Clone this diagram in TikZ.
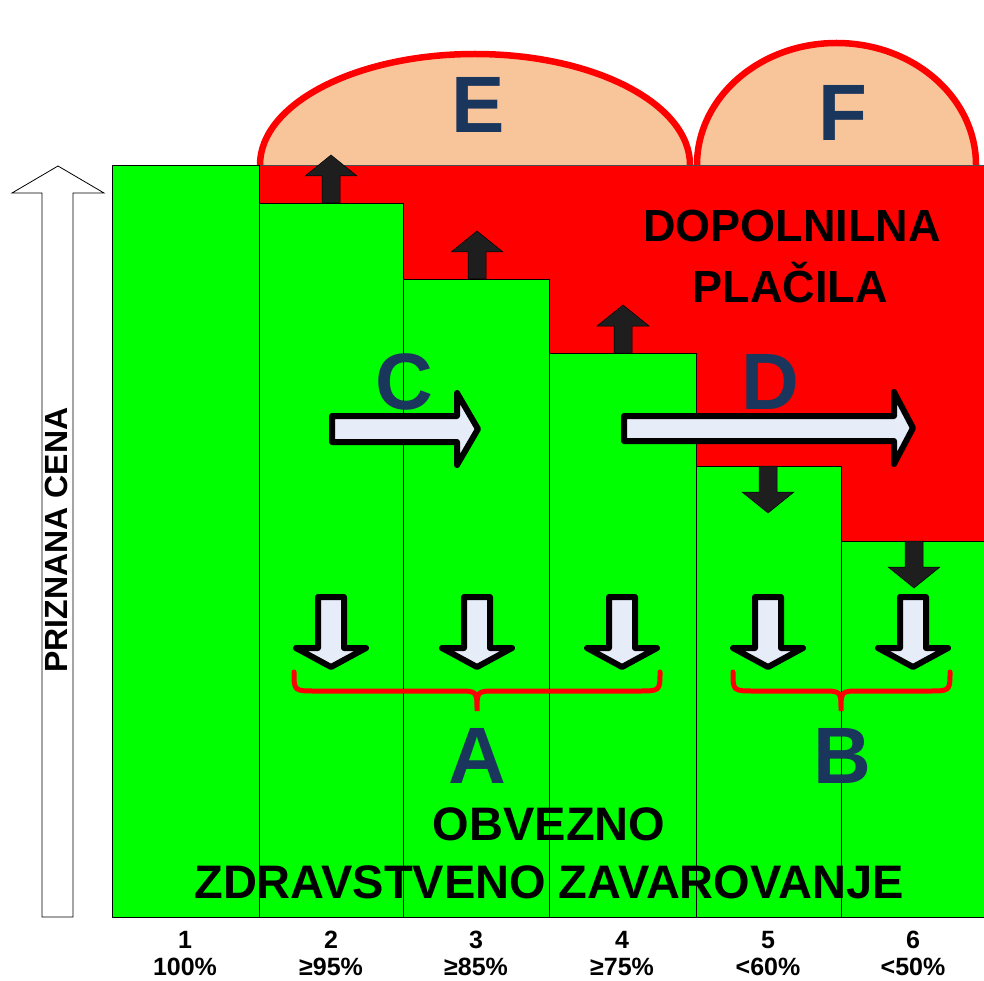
\documentclass[tikz,border=0pt]{standalone}
\usepackage{fontspec}
\setmainfont{Liberation Sans}
\usepackage{xcolor}
\usetikzlibrary{positioning, calc}
\definecolor{barGreen}{HTML}{00FF00}
\definecolor{zoneRed}{HTML}{FF0000}
\definecolor{domePeach}{HTML}{F8C59B}
\definecolor{letterNavy}{HTML}{1B365D}
\definecolor{arrowLight}{HTML}{E6ECF8}
\definecolor{arrowDark}{HTML}{1E1E1E}
\tikzset{
	bar/.style={draw=black, line width=0.8pt, fill=barGreen},
	dome/.style={draw=zoneRed, line width=6.5pt, fill=domePeach},
	redzone/.style={draw=black!70, line width=0.8pt, fill=zoneRed},
	bigletter/.style={font=\fontsize{80}{80}\selectfont\bfseries, text=letterNavy, inner sep=0pt, anchor=base}
}

\begin{document}
\begin{tikzpicture}[
	x=1pt, y=-1pt,
	darkarrow/.style={fill=arrowDark, draw=black, line width=0.5pt},
	lightarrow/.style={fill=arrowLight, draw=black, line width=6pt, line join=round},
	pricearrow/.style={fill=white, draw=black, line width=0.8pt},
	bracket/.style={draw=zoneRed, line width=5pt, line cap=round},
	label_style/.style={font=\fontsize{25}{25}\selectfont\bfseries, inner sep=0pt, anchor=base},
	zone_text/.style={font=\fontsize{45}{45}\selectfont\bfseries, inner sep=0pt, anchor=base}
	]
	\useasboundingbox (0,0) rectangle (984,981);
	
	% --- Domes on top of the red zone ---
	\draw[dome] (260,165) arc[start angle=180, end angle=360, x radius=215, y radius=111];
	\draw[dome] (697,165) arc[start angle=180, end angle=360, x radius=139.5, y radius=122];
	
	% --- Red zone and green bars ---
	\draw[redzone] (259,165) rectangle (986,545);
	\foreach \xa/\xb/\ytop in {112/259/165, 259/403/203, 403/549/279, 549/696/353, 696/841/466, 841/986/541}
		\draw[bar] (\xa,\ytop) rectangle (\xb,917);
	
	% --- Vertical price arrow ---
	\draw[pricearrow] (42,917) -- (42,193) -- (12,193) -- (58,166) -- (104,193) -- (73,193) -- (73,917) -- cycle;
	\node[rotate=90, font=\fontsize{32}{32}\selectfont\bfseries, inner sep=0pt] (priznana_cena) at (56,540) {PRIZNANA CENA};
	
	% Dark arrows at the steps
	\foreach \x/\y in {331/203, 477/279, 623/353}
		\draw[darkarrow] (\x-9,\y) -- ++(0,-27) -- ++(-17,0) -- ++(26,-21) -- ++(26,21) -- ++(-17,0) -- ++(0,27) -- cycle;
	\foreach \x/\y in {768/466, 914/541}
		\draw[darkarrow] (\x-9,\y) -- ++(0,26) -- ++(-17,0) -- ++(26,21) -- ++(26,-21) -- ++(-17,0) -- ++(0,-26) -- cycle;
	
	% Light arrows
	\foreach \x in {331,477,622,768,913}
		\draw[lightarrow] (\x-13,597) -- (\x-13,648) -- (\x-35,648) -- (\x,667) -- (\x+35,648) -- (\x+13,648) -- (\x+13,597) -- cycle;
	\draw[lightarrow] (332,416) -- (457,416) -- (457,393) -- (478,429) -- (457,465) -- (457,442) -- (332,442) -- cycle;
	\draw[lightarrow] (624,416) -- (894,416) -- (894,392) -- (913,428) -- (894,464) -- (894,441) -- (624,441) -- cycle;
	
	% --- Brackets for A and B ---
	\draw[bracket] (294,672) .. controls (294,691) .. (316,691) -- (458,691) .. controls (477,691) .. (477,711) .. controls (477,691) .. (496,691) -- (638,691) .. controls (660,691) .. (660,672);
	\draw[bracket] (733,672) .. controls (733,691) .. (755,691) -- (822,691) .. controls (841,691) .. (841,711) .. controls (841,691) .. (860,691) -- (928,691) .. controls (950,691) .. (950,672);
	
	% --- Letters ---
	\node[bigletter] (letter_e) at (478,133) {E};
	\node[bigletter] (letter_f) at (843,141) {F};
	\node[bigletter] (letter_c) at (404,409) {C};
	\node[bigletter] (letter_d) at (770,409) {D};
	\node[bigletter] (letter_a) at (477,783) {A};
	\node[bigletter] (letter_b) at (842,783) {B};
	
	% --- Zone texts ---
	\node[zone_text] (dopolnilna) at (792,242) {DOPOLNILNA};
	\node[zone_text] (placila) at (790,302) {PLAČILA};
	\node[zone_text, font=\fontsize{47}{47}\selectfont\bfseries] (obvezno) at (549,840) {OBVEZNO};
	\node[zone_text, font=\fontsize{47}{47}\selectfont\bfseries] (zavarovanje) at (549,898) {ZDRAVSTVENO ZAVAROVANJE};
	
	% Column labels
	\foreach \x/\pct [count=\i] in {185/100\%, 331/≥95\%, 476/≥85\%, 622/≥75\%, 768/<60\%, 913/<50\%} {
		\node[label_style] (num_\i) at (\x,948) {\i};
		\node[label_style] (pct_\i) at (\x,975) {\pct};
	}
	
\end{tikzpicture}
\end{document}
